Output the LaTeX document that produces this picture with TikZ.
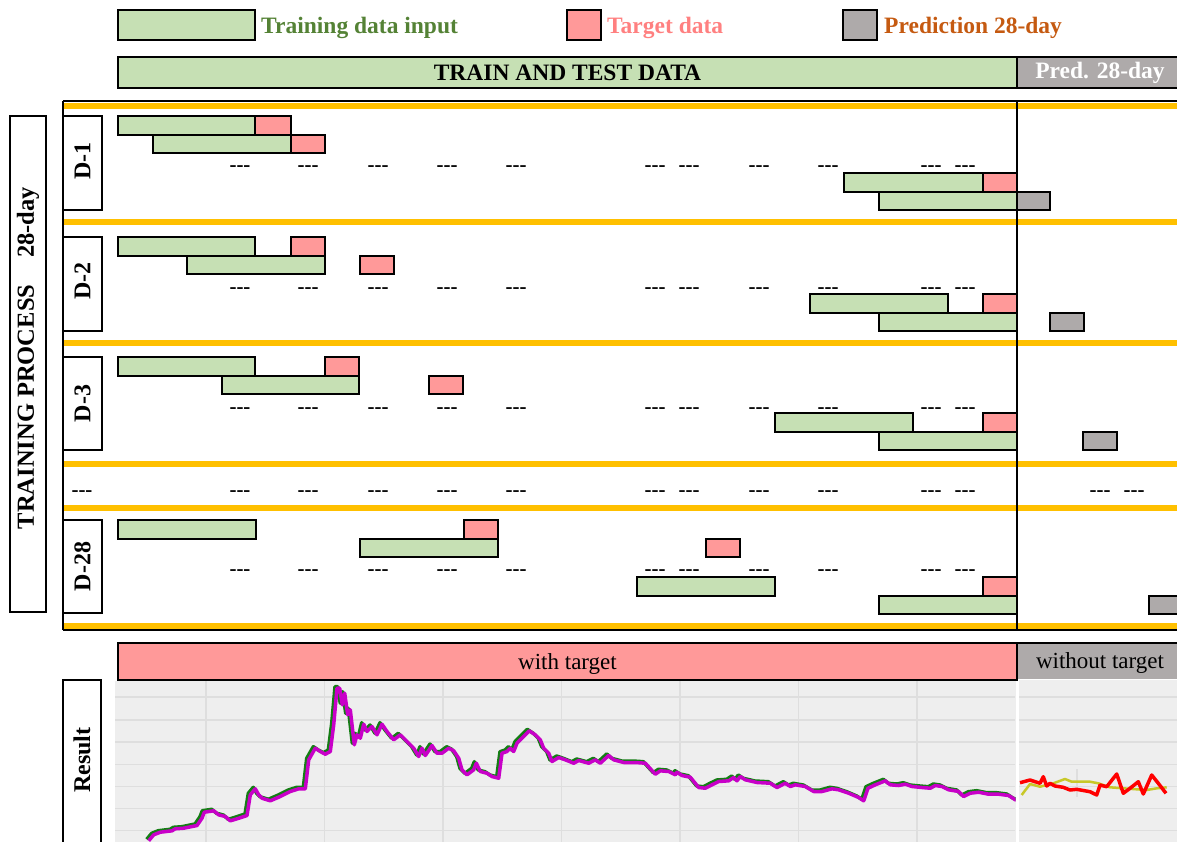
\documentclass[tikz,border=0pt]{standalone}
\usepackage{fontspec}
\setmainfont{Liberation Serif}
\definecolor{gfill}{RGB}{198,224,180}
\definecolor{pfill}{RGB}{255,153,153}
\definecolor{kfill}{RGB}{174,170,170}
\definecolor{orng}{RGB}{255,192,0}
\definecolor{gtext}{RGB}{84,130,53}
\definecolor{ptext}{RGB}{255,128,128}
\definecolor{otext}{RGB}{197,90,17}
\definecolor{chartbg}{RGB}{238,238,238}
\definecolor{gridc}{RGB}{222,222,222}
\definecolor{lgreen}{RGB}{20,125,20}
\definecolor{lmag}{RGB}{200,0,200}
\definecolor{lyel}{RGB}{200,200,40}
\tikzset{
 box/.style={draw=black, line width=2pt, inner sep=0pt, outer sep=0pt, anchor=north west},
 gbar/.style={box, fill=gfill},
 pbar/.style={box, fill=pfill},
 kbar/.style={box, fill=kfill},
 hdr/.style={font=\fontsize{23.5}{28}\selectfont\bfseries},
 reg/.style={font=\fontsize{23}{28}\selectfont},
 dashlbl/.style={font=\fontsize{21}{22}\selectfont\bfseries, inner sep=0pt},
 orangeline/.style={draw=orng, line width=6pt},
 frameline/.style={draw=black, line width=2pt},
 rotlbl/.style={font=\fontsize{24}{28}\selectfont\bfseries, rotate=90, inner sep=0pt},
 gridline/.style={draw=gridc, line width=1.2pt},
}
\newcommand\rbar[6]{\node[#2, minimum width={(#4-#3)*1pt}, minimum height={(#6-#5)*1pt}] (#1) at (#3,#5) {};}
\newcommand\dashrow[3]{\foreach \xx [count=\ii] in {#3} {\node[dashlbl] (#1-\ii) at (\xx,#2) {-{}-{}-};}}
\begin{document}
\begin{tikzpicture}[x=1pt,y=-1pt]
\useasboundingbox (0,0) rectangle (1177,841);
\fill[white] (0,0) rectangle (1177,841);
% legend
\rbar{lg}{gbar}{118}{255}{10}{40}
\node[hdr, text=gtext, anchor=base west, inner sep=0pt] (lgt) at (261,33) {Training data input};
\rbar{lp}{pbar}{567}{601}{10}{40}
\node[hdr, text=ptext, anchor=base west, inner sep=0pt] (lpt) at (607,33) {Target data};
\rbar{lk}{kbar}{843}{877}{10}{40}
\node[hdr, text=otext, anchor=base west, inner sep=0pt] (lkt) at (884,33) {Prediction 28-day};
% header
\node[gbar, hdr, minimum width=899pt, minimum height=31pt] (h1) at (118,57) {TRAIN AND TEST DATA};
\node[kbar, hdr, text=white, minimum width=166pt, minimum height=31pt] (h2) at (1017,57) {Pred. 28-day};
% orange separators
\foreach \yy in {106,222,343,464,508,626} \draw[orangeline] (63,\yy) -- (1177,\yy);
% frame
\draw[frameline] (63,101) -- (1177,101);
\draw[frameline] (63,630) -- (1177,630);
\draw[frameline] (63,101) -- (63,630);
% left label
\node[box, minimum width=36pt, minimum height=496pt] (tp) at (10,116) {};
\node[rotlbl, font=\fontsize{24.5}{28}\selectfont\bfseries] (tpl) at (28,358) {TRAINING PROCESS\hspace{27pt}28-day};
% D labels
\node[box, minimum width=39pt, minimum height=94pt] (bd1) at (63,116) {};
\node[rotlbl] at ([yshift=2pt]bd1.center) {D-1};
\node[box, minimum width=39pt, minimum height=94pt] (bd2) at (63,237) {};
\node[rotlbl] at ([yshift=3pt]bd2.center) {D-2};
\node[box, minimum width=39pt, minimum height=93pt] (bd3) at (63,357) {};
\node[rotlbl] at (bd3.center) {D-3};
\node[box, minimum width=39pt, minimum height=93pt] (bd28) at (63,520) {};
\node[rotlbl] at (bd28.center) {D-28};
% D-1
\rbar{a1g}{gbar}{118}{255}{116}{134.5}
\rbar{a1p}{pbar}{255}{291}{116}{134.5}
\rbar{a2g}{gbar}{153}{291}{134.5}{153}
\rbar{a2p}{pbar}{291}{325}{134.5}{153}
\rbar{a3g}{gbar}{844}{983}{173}{191.5}
\rbar{a3p}{pbar}{983}{1017}{173}{191.5}
\rbar{a4g}{gbar}{879}{1017}{191.5}{210}
\rbar{a4k}{kbar}{1017}{1050}{191.5}{210}
% D-2
\rbar{b1g}{gbar}{118}{255}{237}{255.5}
\rbar{b1p}{pbar}{291}{325}{237}{255.5}
\rbar{b2g}{gbar}{187}{325}{255.5}{274}
\rbar{b2p}{pbar}{360}{394}{255.5}{274}
\rbar{b3g}{gbar}{810}{948}{294}{312.5}
\rbar{b3p}{pbar}{983}{1017}{294}{312.5}
\rbar{b4g}{gbar}{879}{1017}{312.5}{331}
\rbar{b4k}{kbar}{1050}{1084}{312.5}{331}
% D-3
\rbar{c1g}{gbar}{118}{255}{357}{375.5}
\rbar{c1p}{pbar}{325}{359}{357}{375.5}
\rbar{c2g}{gbar}{222}{359}{375.5}{394}
\rbar{c2p}{pbar}{429}{463}{375.5}{394}
\rbar{c3g}{gbar}{775}{913}{413}{431.5}
\rbar{c3p}{pbar}{983}{1017}{413}{431.5}
\rbar{c4g}{gbar}{879}{1017}{431.5}{450}
\rbar{c4k}{kbar}{1083}{1117}{431.5}{450}
% D-28
\rbar{e1g}{gbar}{118}{256}{520}{538.5}
\rbar{e1p}{pbar}{464}{498}{520}{538.5}
\rbar{e2g}{gbar}{360}{498}{538.5}{557}
\rbar{e2p}{pbar}{706}{740}{538.5}{557}
\rbar{e3g}{gbar}{637}{775}{577}{595.5}
\rbar{e3p}{pbar}{983}{1017}{577}{595.5}
\rbar{e4g}{gbar}{879}{1017}{595.5}{614}
\rbar{e4k}{kbar}{1149}{1185}{595.5}{614}
% dashes
\dashrow{da}{168.5}{240,308,378,447,516,655,689,759,828,931,965}
\dashrow{db}{290.5}{240,308,378,447,516,655,689,759,828,931,965}
\dashrow{dc}{410.5}{240,308,378,447,516,655,689,759,828,931,965}
\dashrow{dm}{493.5}{82,240,308,378,447,516,655,689,759,828,931,965,1100,1134}
\dashrow{de}{572.5}{240,308,378,447,516,655,689,759,828,931,965}
% vertical divider
\draw[black, line width=2.5pt] (1017,101) -- (1017,630);
% bottom bars
\node[pbar, minimum width=899pt, minimum height=37pt] (wt) at (118,643) {};
\node[reg, inner sep=0pt] (wtl) at ([yshift=-2pt]wt.center) {with target};
\node[box, draw=none, fill=kfill, minimum width=166pt, minimum height=36pt] (wot) at (1017,643) {};
\node[reg, inner sep=0pt] (wotl) at ([yshift=-2pt]wot.center) {without target};
\draw[frameline] (1017,643) -- (1177,643);
\draw[frameline] (wt.north east) -- (wt.south east);
% chart
\fill[chartbg] (115,681) rectangle (1015.5,845);
\fill[chartbg] (1019,680) rectangle (1177,845);
\foreach \xx in {206,324.5,443,561.5,680,798.5,917} \draw[gridline] (\xx,681) -- (\xx,845);
\foreach \yy in {697,720,742,764.5,786.5,808.5,830.7} {\draw[gridline] (115,\yy) -- (1015,\yy); \draw[gridline] (1019,\yy) -- (1177,\yy);}
\draw[gridline] (1077,769) -- (1077,797);
\node[box, minimum width=38pt, minimum height=170pt] (res) at (63,680) {};
\node[rotlbl] at (82,760) {Result};
\begin{scope}
\clip (115,681) rectangle (1015.5,845);
\def\curve{(146.7,839.3) (151.7,833.3) (158.3,830.7) (170,829.3) (173.3,827.3) (181.7,826.7) (195,824) (200,816.7) (202.3,810.7) (211.7,809.3) (216.7,813.3) (223.3,815) (228.3,819.3) (235,817.3) (245,814) (248.3,793.3) (253.3,787.3) (256.7,793.3) (260,796.7) (268.3,799.3) (278.3,795) (288.3,790) (296.7,787.3) (303.3,787.3) (306.7,758.3) (313.3,746.7) (318.3,750) (323.3,752.7) (328.3,750) (331.7,723.3) (335,686.7) (337.7,686.7) (340.3,703.3) (342.7,691.7) (345.7,713.3) (348.3,708.3) (352.3,743.3) (355,733.3) (358.3,736.7) (361.7,722.7) (365,730) (370,725) (375,733.3) (380,722.7) (385,730) (391.7,738.3) (398.3,733.3) (405,740) (411.7,746.7) (416.7,755) (420,746.7) (423.3,754) (430,744) (435,751.7) (440,751.7) (446.7,746.7) (451.7,749.3) (456.7,756.7) (460,768.3) (465,773.3) (471.7,768.3) (474.3,761.7) (478.3,770) (485,771.7) (490,775) (496.7,776.7) (500,751.7) (505,750) (508.3,746.7) (511.7,750) (515,741.7) (521.7,735) (527.3,729.3) (533.3,733.3) (538.3,738.3) (541.7,746.7) (546.7,751.7) (550,760) (556.7,756) (563.3,758.3) (571.7,761.7) (576.7,759) (586.7,761.7) (593.3,758.3) (598.3,761.7) (606.7,754) (611.7,758.3) (621.7,761) (633.3,761) (643.3,761.7) (653.3,772.7) (658.3,769.3) (666.7,770) (673.3,773.3) (675,770.7) (680,774) (688.3,775.7) (696.7,786) (703.3,786.7) (710,783.3) (716.7,780) (726.7,779.3) (731.7,776) (735,779.3) (738.3,775) (743.3,778.3) (755,781) (768.3,781.7) (775,786) (783.3,781.7) (788.3,785) (793.3,783.3) (803.3,785) (811.7,790) (820,790) (830,787.3) (836.7,788.3) (846.7,791.7) (856.7,796) (861.7,799.3) (866,786.7) (873.3,783.3) (883.3,779.3) (888.3,783.3) (896.7,784) (903.3,782.7) (910,785) (920,786) (928.3,786.7) (933.3,784) (940,785) (946.7,788.3) (956.7,790) (961.7,795) (968.3,791.7) (976.7,790.7) (986.7,792.7) (996.7,792.7) (1006.7,794) (1013.3,798.3) (1016,799)}
\draw[lgreen, line width=3.5pt, line join=round] plot coordinates {\curve};
\draw[lmag, line width=3.5pt, line join=round, xshift=2pt, yshift=-1.5pt] plot coordinates {\curve};
\end{scope}
\draw[lyel, line width=2.5pt, line join=round] plot coordinates {(1021.7,795) (1030,784) (1040,786.7) (1053.3,783.3) (1065,779) (1071.7,781.7) (1090,781.7) (1098.3,783.3) (1110,787.3) (1123.3,788.3) (1136.7,789.3) (1146.7,790) (1156.7,788.3) (1166.7,787.3)};
\draw[red, line width=3.5pt, line join=round] plot coordinates {(1020,782.7) (1030,780) (1040,783.3) (1043.3,776.7) (1046.7,786) (1050,783.3) (1055,786) (1063.3,787.3) (1070,790) (1076.7,789.3) (1090,791.7) (1096.7,795) (1100,785) (1106.7,786.7) (1116.7,774) (1123.3,793.3) (1130,788.3) (1138.3,781.7) (1143.3,794) (1151.7,775) (1158.3,783.3) (1166,793.3)};
\end{tikzpicture}
\end{document}
